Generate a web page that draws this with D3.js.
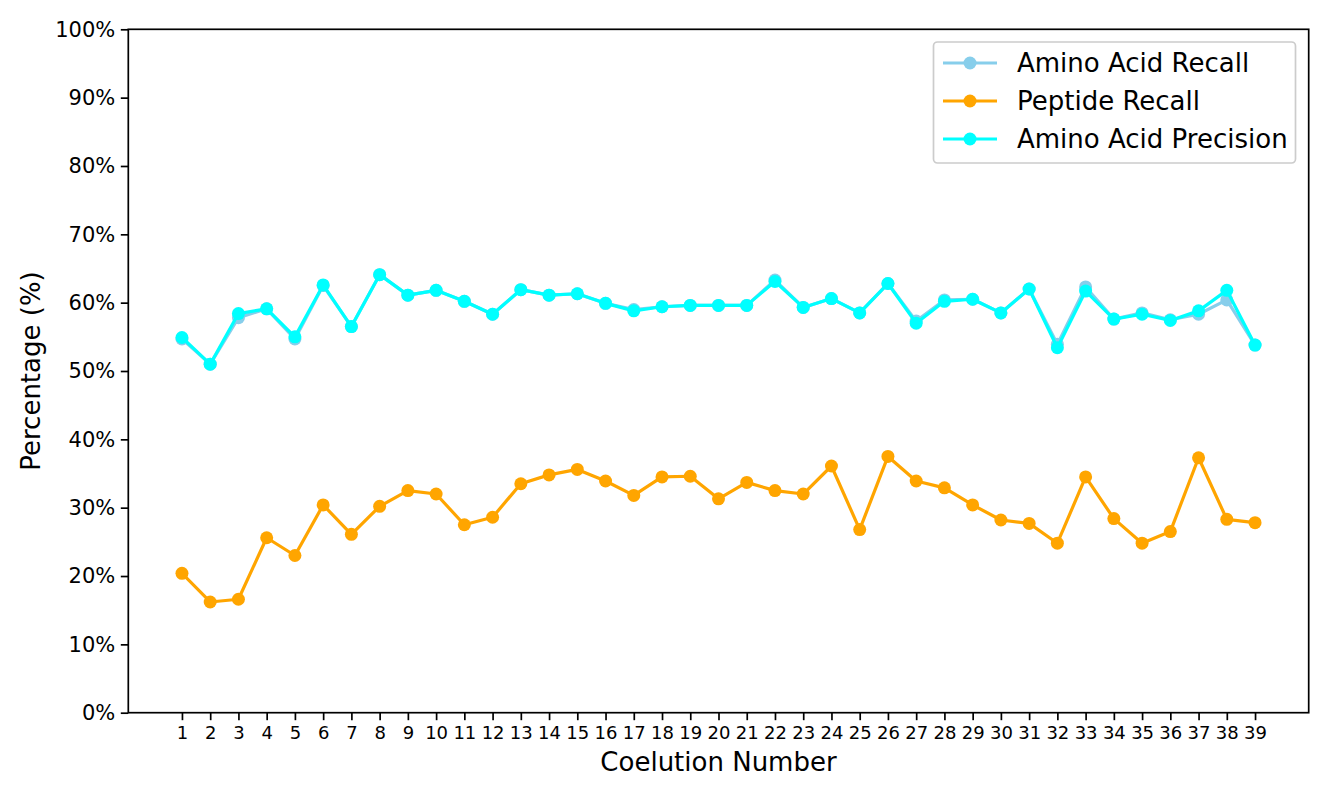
<!DOCTYPE html>
<html><head><meta charset="utf-8">
<script src="https://cdn.jsdelivr.net/npm/d3@7"></script>
<style>body{margin:0;background:#fff}svg{display:block}text{font-family:"DejaVu Sans",sans-serif}</style>
</head><body><svg id="c" width="1329" height="797"></svg>
<script>
const coelutions = d3.range(1, 40);
const yTicks = [0,10,20,30,40,50,60,70,80,90,100];
const aminoAcidRecall = [54.7,51.0,57.8,59.1,54.7,62.5,56.5,64.1,61.1,61.8,60.2,58.3,61.9,61.1,61.3,59.9,59.0,59.4,59.6,59.6,59.6,63.3,59.3,60.6,58.5,62.8,57.3,60.4,60.5,58.5,62.0,53.9,62.3,57.6,58.5,57.5,58.3,60.4,53.8];
const peptideRecall = [20.4,16.2,16.6,25.6,23.0,30.4,26.1,30.2,32.5,32.0,27.5,28.6,33.5,34.8,35.6,33.9,31.8,34.5,34.6,31.3,33.7,32.5,32.0,36.1,26.8,37.5,33.9,32.9,30.4,28.2,27.7,24.8,34.5,28.4,24.8,26.5,37.3,28.3,27.8];
const aminoAcidPrecision = [54.9,51.0,58.4,59.1,55.0,62.6,56.5,64.1,61.1,61.8,60.2,58.3,61.9,61.1,61.3,59.9,58.8,59.4,59.6,59.6,59.6,63.1,59.3,60.6,58.5,62.8,57.0,60.2,60.5,58.5,62.0,53.4,61.7,57.6,58.3,57.4,58.8,61.8,53.8];
const series = [
  {name:"Amino Acid Recall", values:aminoAcidRecall, color:"#87CEEB"},
  {name:"Peptide Recall", values:peptideRecall, color:"#FFA500"},
  {name:"Amino Acid Precision", values:aminoAcidPrecision, color:"#00FFFF"}
];

const L=128.3, R=1308.7, T=29.3, B=712.7;
const svg = d3.select("#c");
const x = d3.scaleLinear().domain([-0.9, 40.9]).range([L, R]);
const y = d3.scaleLinear().domain([0, 100]).range([B, T]);

// axes
const xAxis = svg.append("g").attr("transform",`translate(0,${B})`)
  .call(d3.axisBottom(x).tickValues(coelutions).tickFormat(d3.format("d")).tickSize(7.5).tickSizeOuter(0));
xAxis.select(".domain").remove();
xAxis.selectAll("line").attr("stroke","#000").attr("stroke-width",1.7);
xAxis.selectAll("text").attr("font-size",18).attr("fill","#000").attr("dy","0.71em").attr("y",14);

const yAxis = svg.append("g").attr("transform",`translate(${L},0)`)
  .call(d3.axisLeft(y).tickValues(yTicks).tickFormat(d=>d+"%").tickSize(7.5).tickSizeOuter(0));
yAxis.select(".domain").remove();
yAxis.selectAll("line").attr("stroke","#000").attr("stroke-width",1.7);
yAxis.selectAll("text").attr("font-size",21).attr("fill","#000").attr("x",-13);

// lines
const line = d3.line().x((d,i)=>x(coelutions[i])).y(d=>y(d));
series.forEach(s=>{
  const g = svg.append("g");
  g.append("path").datum(s.values).attr("d",line).attr("fill","none")
    .attr("stroke",s.color).attr("stroke-width",3.2).attr("stroke-linejoin","round").attr("stroke-linecap","square");
  g.selectAll("circle").data(s.values).join("circle")
    .attr("cx",(d,i)=>x(coelutions[i])).attr("cy",d=>y(d)).attr("r",6.5).attr("fill",s.color);
});

// frame
svg.append("rect").attr("x",L).attr("y",T).attr("width",R-L).attr("height",B-T)
  .attr("fill","none").attr("stroke","#000").attr("stroke-width",1.7);

// labels
svg.append("text").attr("x",(L+R)/2).attr("y",771).attr("text-anchor","middle")
  .attr("font-size",26).text("Coelution Number");
svg.append("text").attr("transform",`translate(40,${(T+B)/2}) rotate(-90)`).attr("text-anchor","middle")
  .attr("font-size",26).text("Percentage (%)");

// legend
const lg = svg.append("g");
lg.append("rect").attr("x",933.5).attr("y",42).attr("width",362).attr("height",121).attr("rx",4)
  .attr("fill","#fff").attr("fill-opacity",0.8).attr("stroke","#cccccc").attr("stroke-width",1.7);
series.forEach((s,i)=>{
  const yy = 63 + i*38;
  lg.append("line").attr("x1",943).attr("x2",997).attr("y1",yy).attr("y2",yy).attr("stroke",s.color).attr("stroke-width",3.2);
  lg.append("circle").attr("cx",970).attr("cy",yy).attr("r",6.5).attr("fill",s.color);
  lg.append("text").attr("x",1017).attr("y",yy).attr("dy","0.36em").attr("font-size",26).text(s.name);
});
</script></body></html>
